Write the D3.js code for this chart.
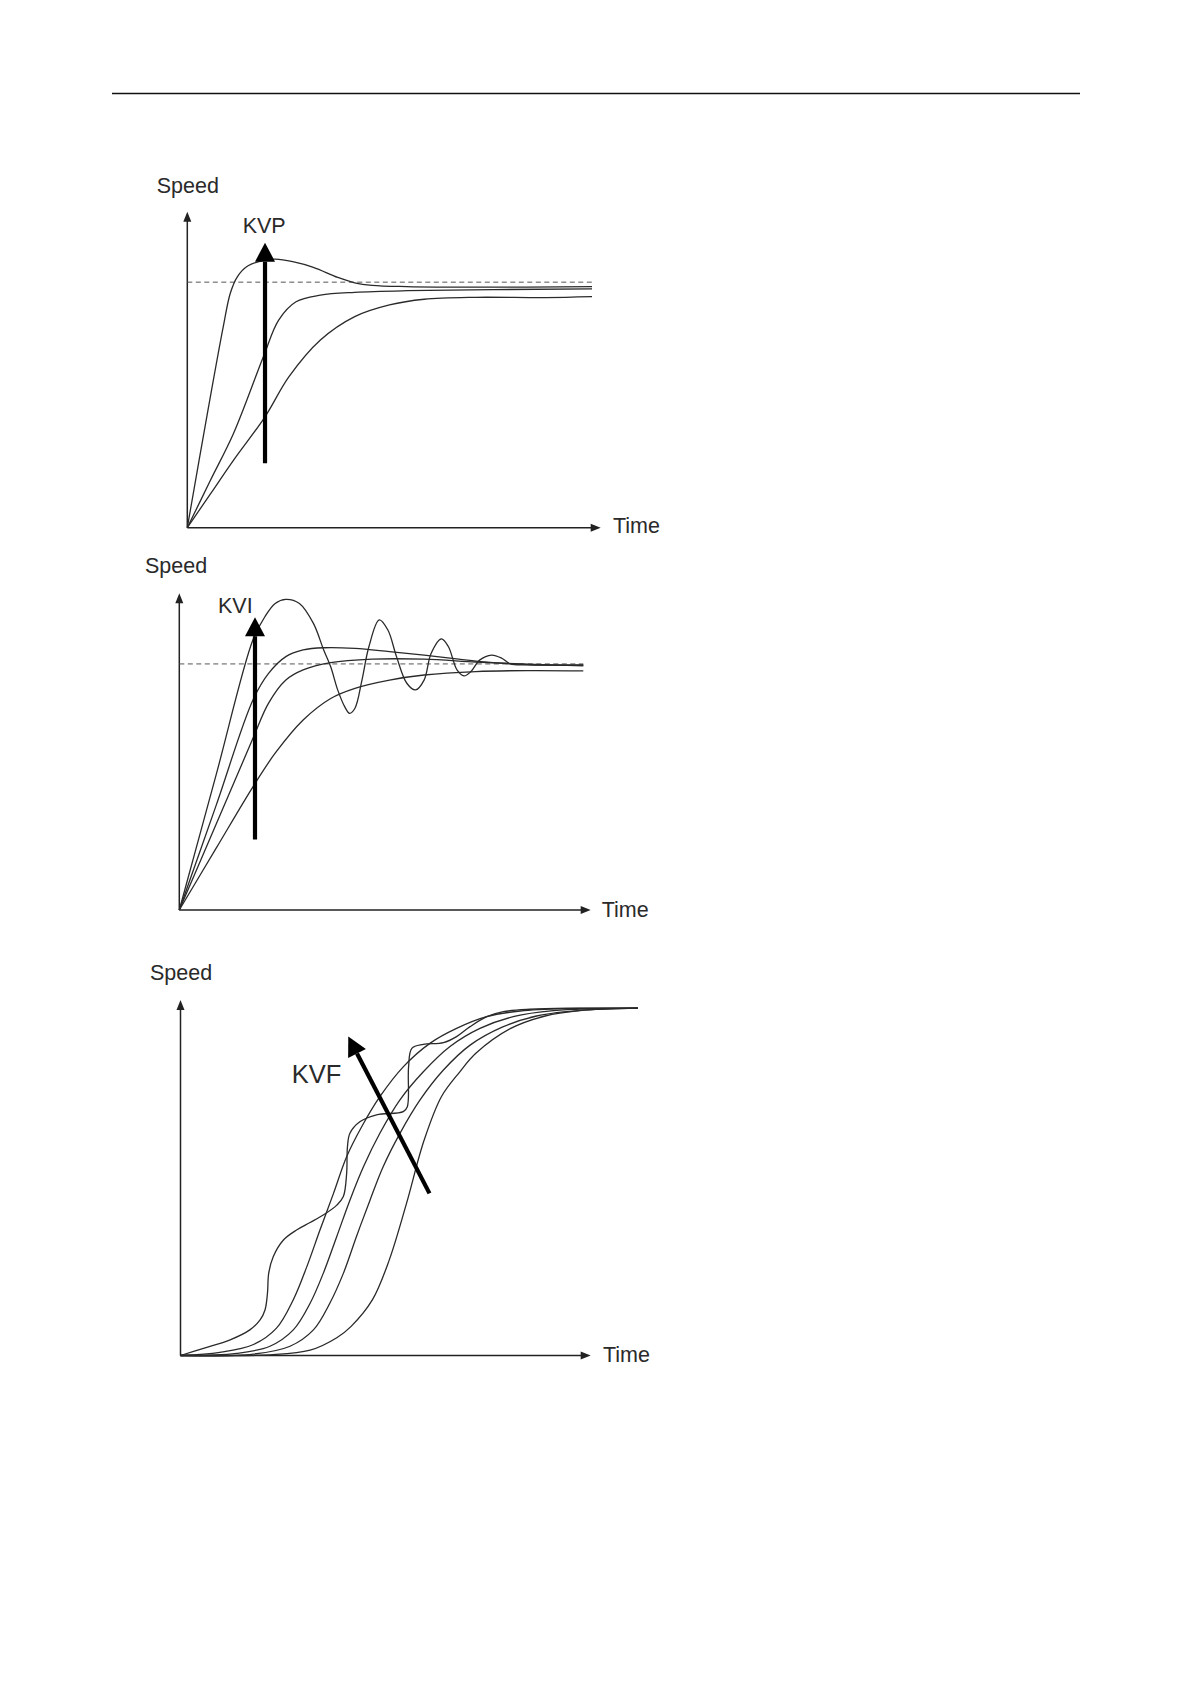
<!DOCTYPE html>
<html><head><meta charset="utf-8">
<script src="https://cdn.jsdelivr.net/npm/d3@7"></script>
<style>html,body{margin:0;padding:0;background:#fff;} svg{display:block;}</style>
</head><body>
<svg id="page" width="1190" height="1684"></svg>
<script>
// Speed step responses for three servo gains: KVP, KVI and KVF.
// Time and speed are in normalised units (0-100 along each axis).

// --- KVP: proportional speed gain (low, medium, high) ---
const kvpLow  = [[0,0],[5.6,10.7],[11.2,21.4],[18.8,35.1],[24.6,47.8],[32.2,59.4],[40.5,66.8],[48.9,70.5],[57.3,72.3],[69.8,72.9],[86.6,72.8],[97.9,73.1]];
const kvpMid  = [[0,0],[5.6,15.0],[11.2,29.9],[18.4,54.1],[22.1,65.7],[26.3,71.5],[32.2,73.6],[40.5,74.5],[53.1,75.0],[97.9,75.6]];
const kvpHigh = [[0,0],[5.0,37.2],[8.7,63.6],[10.4,74.2],[12.1,79.4],[14.6,82.8],[18.8,84.7],[21.3,85.0],[25.5,84.2],[30.5,82.4],[36.4,79.2],[40.5,77.5],[44.7,76.7],[53.1,76.3],[69.8,76.1],[97.9,76.3]];
const kvpSetpoint = 77.7;
const kvpArrow = [[18.8,20.4],[18.8,90.2]];

// --- KVI: integral speed gain (four settings, highest oscillates) ---
const kviSlow = [[0,0],[9,19.6],[17.9,38.9],[23.3,49.5],[30.1,60.0],[36.8,66.8],[42.7,70.0],[51.1,72.6],[59.5,74.2],[72.1,75.3],[84.7,75.6],[98.2,75.5]];
const kviMid  = [[0,0],[9,27.2],[17.9,54.2],[21.7,65.3],[25.9,72.6],[30.1,75.8],[36.8,78.1],[46.9,79.2],[59.5,79.2],[72.1,78.3],[84.7,77.6],[98.2,77.1]];
const kviFast = [[0,0],[9,33.2],[17.9,66.3],[21.7,74.7],[25.9,80.0],[30.1,82.1],[35.1,82.8],[42.7,82.6],[51.1,81.6],[59.5,80.5],[67.9,79.2],[76.3,78.1],[84.7,77.5],[98.2,77.3]];
const kviOsc  = [[0,0],[9,42.9],[17.9,85.3],[20.8,92.6],[23.3,96.8],[25.9,98.1],[29.2,96.8],[32.6,90.5],[35.1,82.1],[36.8,76.8],[38.5,69.5],[40.2,64.2],[41.4,62.1],[42.7,63.7],[44.4,72.6],[46.1,83.2],[48.6,91.6],[50.7,88.4],[52.8,80.0],[55.3,71.6],[57.4,69.5],[59.5,72.6],[61.2,81.0],[63.7,85.6],[65.4,83.2],[67.5,75.8],[69.2,73.9],[70.9,75.3],[73.0,78.9],[75.9,80.5],[78.4,79.5],[80.5,77.7],[84.7,77.4],[98.2,77.4]];
const kviSetpoint = 77.7;
const kviArrow = [[18.4,22.3],[18.4,92.4]];

// --- KVF: speed feed-forward gain (S-curve responses) ---
const kvfS4 = [[0,0],[21.8,0.2],[31.6,1.5],[38.1,5.0],[41.6,8.2],[46.8,15.7],[50.9,26.9],[55.1,42.8],[59.4,60.6],[63.6,72.8],[68.1,79.8],[72.0,85.0],[80.5,92.0],[88.9,95.5],[97.3,97.0],[111.5,97.7]];
const kvfS3 = [[0,0],[17.8,0.4],[26.7,2.6],[32.4,7.2],[36.4,14.7],[39.7,23.1],[42.9,33.5],[46.2,43.7],[49.4,53.1],[53.5,62.5],[58.4,71.9],[64.1,80.3],[70.6,87.3],[78.7,92.5],[86.8,95.5],[99.0,97.2],[111.5,97.7]];
const kvfS2 = [[0,0],[13.7,0.6],[21.8,2.6],[27.5,7.2],[31.6,14.7],[34.8,23.1],[38.1,33.5],[41.3,43.7],[44.6,53.1],[48.6,62.5],[53.5,71.9],[59.2,79.8],[65.7,86.9],[73.0,92.0],[81.1,95.3],[90.9,97.0],[111.5,97.7]];
const kvfS1 = [[0,0],[9.6,0.9],[17.8,3.1],[23.4,7.7],[27.5,15.7],[30.8,25.0],[34.0,35.3],[37.3,45.6],[40.5,55.9],[44.2,64.4],[48.6,72.8],[54.3,81.2],[60.8,87.8],[67.3,92.0],[74.6,95.3],[82.8,96.9],[95.0,97.6],[111.5,97.7]];
const kvfWavy = [[0,0],[5.6,2.0],[12.1,4.4],[16.9,7.2],[19.4,10.0],[20.6,12.8],[21.2,17.5],[21.5,23.1],[22.6,27.8],[25.1,32.5],[28.3,35.3],[31.6,37.4],[34.8,39.5],[38.1,42.3],[39.7,44.7],[40.5,51.2],[40.7,58.7],[41.3,62.5],[43.8,65.8],[47.8,67.7],[54.3,68.6],[55.3,70.0],[55.6,81.2],[56.4,86.4],[59.2,87.5],[64.1,88.0],[67.3,89.7],[70.6,92.5],[74.7,95.3],[78.7,96.7],[85.2,97.4],[95.0,97.7],[111.5,97.7]];
const kvfArrow = [[60.7,45.6],[40.9,89.7]];

const axisTitles = {speed: "Speed", time: "Time"};

// Panel geometry (pixel frame of each sketch)
const panels = [
  {x0:187.3, x1:600.7, y0:527.7, y1:211.7,
   speedAt:[156.7,193], timeAt:[613,533],
   gain:"KVP", gainAt:[242.7,233.3], gainSize:21.5,
   series:[kvpLow,kvpMid,kvpHigh], setpoint:kvpSetpoint, setEnd:98.7, arrow:kvpArrow},
  {x0:179.3, x1:590.7, y0:910, y1:593.3,
   speedAt:[145,573.3], timeAt:[601.7,916.7],
   gain:"KVI", gainAt:[218,613.3], gainSize:21.5,
   series:[kviSlow,kviMid,kviFast,kviOsc], setpoint:kviSetpoint, setEnd:98.2, arrow:kviArrow},
  {x0:180.5, x1:590.7, y0:1355.5, y1:1000,
   speedAt:[150,980], timeAt:[603,1362],
   gain:"KVF", gainAt:[291.7,1083.3], gainSize:25.5,
   series:[kvfS4,kvfS3,kvfS2,kvfS1,kvfWavy], setpoint:null, arrow:kvfArrow}
];

const svg = d3.select("#page");
const FONT = "'Liberation Sans', Arial, Helvetica, sans-serif";

// page header rule
svg.append("line").attr("x1",112).attr("x2",1080).attr("y1",93.5).attr("y2",93.5)
  .attr("stroke","#111").attr("stroke-width",1.6);

function arrowHead(g, tip, base, len, wid, fill){
  const dx = tip[0]-base[0], dy = tip[1]-base[1];
  const L = Math.hypot(dx,dy), ux = dx/L, uy = dy/L;
  const bx = tip[0]-ux*len, by = tip[1]-uy*len;
  const px = -uy*wid/2, py = ux*wid/2;
  g.append("path")
    .attr("d", `M${tip[0]},${tip[1]}L${bx+px},${by+py}L${bx-px},${by-py}Z`)
    .attr("fill", fill);
  return [bx,by];
}

panels.forEach(p => {
  const x = d3.scaleLinear().domain([0,100]).range([p.x0,p.x1]);
  const y = d3.scaleLinear().domain([0,100]).range([p.y0,p.y1]);
  const g = svg.append("g");

  // axes with small arrowheads
  const axisCol = "#222";
  g.append("line").attr("x1",x(0)).attr("y1",y(0)).attr("x2",x(100)-6).attr("y2",y(0))
    .attr("stroke",axisCol).attr("stroke-width",1.5);
  arrowHead(g,[x(100),y(0)],[x(0),y(0)],10,8,axisCol);
  g.append("line").attr("x1",x(0)).attr("y1",y(0)).attr("x2",x(0)).attr("y2",y(100)+6)
    .attr("stroke",axisCol).attr("stroke-width",1.5);
  arrowHead(g,[x(0),y(100)],[x(0),y(0)],10,8,axisCol);

  // target speed
  if (p.setpoint !== null) {
    g.append("line").attr("x1",x(0)).attr("x2",x(p.setEnd))
      .attr("y1",y(p.setpoint)).attr("y2",y(p.setpoint))
      .attr("stroke","#555").attr("stroke-width",1)
      .attr("stroke-dasharray","5,3.5");
  }

  // response curves
  const line = d3.line().x(d=>x(d[0])).y(d=>y(d[1])).curve(d3.curveCatmullRom.alpha(0.5));
  g.selectAll("path.resp").data(p.series).enter().append("path")
    .attr("class","resp").attr("d",line)
    .attr("fill","none").attr("stroke","#2a2a2a").attr("stroke-width",1.3);

  // gain direction arrow
  const tail = [x(p.arrow[0][0]), y(p.arrow[0][1])];
  const tip  = [x(p.arrow[1][0]), y(p.arrow[1][1])];
  const base = arrowHead(g, tip, tail, 19, 20, "#000");
  g.append("line").attr("x1",tail[0]).attr("y1",tail[1]).attr("x2",base[0]).attr("y2",base[1])
    .attr("stroke","#000").attr("stroke-width",4.2);

  // labels
  const txt = (s, at, size) => g.append("text").attr("x",at[0]).attr("y",at[1])
    .attr("font-family",FONT).attr("font-size",size).attr("fill","#2a2a2a").text(s);
  txt(axisTitles.speed, p.speedAt, 21.5);
  txt(axisTitles.time, p.timeAt, 21.5);
  txt(p.gain, p.gainAt, p.gainSize);
});
</script>
</body></html>
